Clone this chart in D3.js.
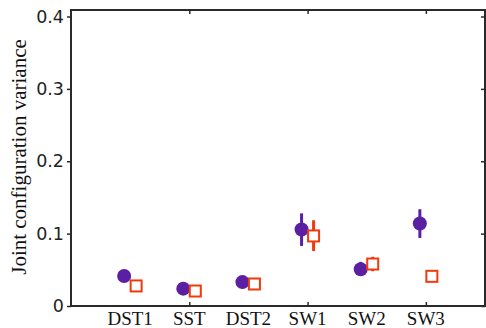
<!DOCTYPE html>
<html>
<head>
<meta charset="utf-8">
<script src="https://cdn.jsdelivr.net/npm/d3@7"></script>
<style>
  body { margin: 0; background: #fff; }
</style>
</head>
<body>
<div id="chart"></div>
<script>
/***** data *****/
var categories = ["DST1", "SST", "DST2", "SW1", "SW2", "SW3"];
// purple circles
var circleMean = [0.0415, 0.024, 0.033, 0.1057, 0.0508, 0.114];
var circleLow  = [0.0415, 0.024, 0.033, 0.083, 0.044, 0.094];
var circleHigh = [0.0415, 0.024, 0.033, 0.128, 0.061, 0.1337];
// orange squares
var squareMean = [0.0277, 0.0207, 0.0304, 0.0968, 0.058, 0.041];
var squareLow  = [0.0277, 0.0207, 0.0304, 0.076, 0.048, 0.041];
var squareHigh = [0.0277, 0.0207, 0.0304, 0.1185, 0.068, 0.041];
var yTicks = [0, 0.1, 0.2, 0.3, 0.4];
var xTickIdx = [2, 4, 6];

//chart parameters
var width = 486, height = 328;
var margin = {top: 10, right: 1, bottom: 22, left: 71};
var w = width - margin.left - margin.right;
var h = height - margin.top - margin.bottom;

var purple = "#5a1fa2";
var orange = "#f03a0c";
var axisColor = "#2a2a2a";
var serifFont = "'Liberation Serif'";

var svg = d3.select("#chart").append("svg")
  .attr("width", width)
  .attr("height", height);

var g = svg.append("g")
  .attr("transform", "translate(" + margin.left + "," + margin.top + ")");

//scales
var x = d3.scaleLinear().domain([0, 7]).range([0, w]);
var y = d3.scaleLinear().domain([0, 0.409]).range([h, 0]);

var styleTicks = function(s){
  s.select(".domain").remove();
  s.selectAll("line").attr("stroke", axisColor).attr("stroke-width", 1.5);
};

//left axis, ticks outward
g.append("g")
  .call(d3.axisLeft(y).tickValues(yTicks).tickFormat(function(d){ return d === 0 ? "0" : d3.format(".1f")(d); })
    .tickSizeInner(4).tickSizeOuter(0).tickPadding(3))
  .call(styleTicks)
  .selectAll("text")
  .style("font-family", "'DejaVu Sans'")
  .style("font-size", "17.5px")
  .attr("fill", "#222");

//right axis ticks inward
g.append("g")
  .attr("transform", "translate(" + w + ",0)")
  .call(d3.axisLeft(y).tickValues(yTicks).tickFormat("").tickSizeInner(4).tickSizeOuter(0))
  .call(styleTicks);

//top + bottom ticks inward
g.append("g")
  .call(d3.axisBottom(x).tickValues(xTickIdx).tickFormat("").tickSizeInner(4).tickSizeOuter(0))
  .call(styleTicks);
g.append("g")
  .attr("transform", "translate(0," + h + ")")
  .call(d3.axisTop(x).tickValues(xTickIdx).tickFormat("").tickSizeInner(4).tickSizeOuter(0))
  .call(styleTicks);

//box
g.append("rect")
  .attr("x", 0).attr("y", 0).attr("width", w).attr("height", h)
  .attr("fill", "none").attr("stroke", axisColor).attr("stroke-width", 2);

//category labels
g.selectAll(".xlab").data(categories).enter().append("text")
  .attr("class", "xlab")
  .attr("x", function(d, i){ return x(i + 1); })
  .attr("y", h + 19)
  .attr("text-anchor", "middle")
  .style("font-family", serifFont)
  .style("font-size", "19px")
  .attr("fill", "#111")
  .text(function(d){ return d; });

//y title
svg.append("text")
  .attr("transform", "translate(26,157) rotate(-90)")
  .attr("text-anchor", "middle")
  .style("font-family", serifFont)
  .style("font-size", "21px")
  .attr("fill", "#111")
  .text("Joint configuration variance");

var off = 6;

//error bars
g.selectAll(".cerr").data(categories).enter().append("line")
  .attr("x1", function(d, i){ return x(i + 1) - off; })
  .attr("x2", function(d, i){ return x(i + 1) - off; })
  .attr("y1", function(d, i){ return y(circleLow[i]); })
  .attr("y2", function(d, i){ return y(circleHigh[i]); })
  .attr("stroke", purple).attr("stroke-width", 3);

g.selectAll(".serr").data(categories).enter().append("line")
  .attr("x1", function(d, i){ return x(i + 1) + off; })
  .attr("x2", function(d, i){ return x(i + 1) + off; })
  .attr("y1", function(d, i){ return y(squareLow[i]); })
  .attr("y2", function(d, i){ return y(squareHigh[i]); })
  .attr("stroke", orange).attr("stroke-width", 3);

//markers
g.selectAll(".circ").data(categories).enter().append("circle")
  .attr("cx", function(d, i){ return x(i + 1) - off; })
  .attr("cy", function(d, i){ return y(circleMean[i]); })
  .attr("r", 7)
  .attr("fill", purple);

var sq = 11;
g.selectAll(".sq").data(categories).enter().append("rect")
  .attr("x", function(d, i){ return x(i + 1) + off - sq / 2; })
  .attr("y", function(d, i){ return y(squareMean[i]) - sq / 2; })
  .attr("width", sq).attr("height", sq)
  .attr("fill", "#fff")
  .attr("stroke", orange).attr("stroke-width", 2);
</script>
</body>
</html>
